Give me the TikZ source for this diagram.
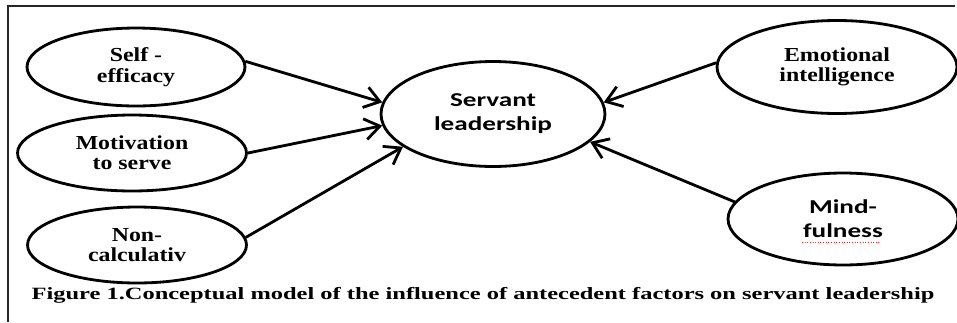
\documentclass[tikz,border=0pt]{standalone}
\usepackage{fontspec}
\setmainfont{Liberation Serif}
\newfontfamily\factorfont{Liberation Serif}[FakeStretch=1.2]
\newfontfamily\captionfont{Liberation Serif}[FakeStretch=1.42]
\newfontfamily\centerfont{Carlito}[FakeStretch=1.38]
\usetikzlibrary{positioning,arrows.meta,shapes.geometric}
\tikzset{
  factor/.style={ellipse, draw, line width=1.6pt, align=center, inner sep=0pt,
    font=\factorfont\bfseries\fontsize{11.3}{11.6}\selectfont},
  core/.style={factor, font=\centerfont\bfseries\fontsize{11.2}{13.7}\selectfont},
  influence/.style={-{Straight Barb[length=3mm,width=4.2mm,line width=1.6pt]}, line width=1.6pt},
  figcaption/.style={font=\captionfont\bfseries\fontsize{9.8}{11}\selectfont, anchor=base},
}

\begin{document}
\begin{tikzpicture}[x=0.02cm, y=-0.02cm]
  \useasboundingbox (0,0) rectangle (957,322);
  % open frame: top and left edges only
  \draw[line width=0.9pt, black!85] (8,322) -- (8,6) -- (955,6);

  \node[core, minimum width=4.48cm, minimum height=2.1cm] (servant) at (493,114) {Servant\\leadership};

  \node[factor, minimum width=4.36cm, minimum height=1.56cm] (selfeff) at (136,67) {Self -\\efficacy};
  \node[factor, minimum width=4.58cm, minimum height=1.52cm] (motiv) at (132,153) {Motivation\\to serve};
  \node[factor, minimum width=4.38cm, minimum height=1.52cm] (noncalc) at (137,245) {Non-\\calculativ};

  \node[factor, minimum width=4.8cm, minimum height=1.86cm] (emotion) at (837,67) {Emotional\\intelligence};
  \node[core, minimum width=4.6cm, minimum height=1.84cm] (mind) at (843,219) {Mind-\\fulness};
  % spell-check mark under the second line
  \draw[red!80, densely dotted, line width=0.5pt] (802,242) -- (880,242);

  \draw[influence] (selfeff.3) -- (servant.174);
  \draw[influence] (motiv.east) -- (servant.186);
  \draw[influence] (noncalc.4) -- (servant.200);
  \draw[influence] (emotion.178) -- (servant.6);
  \draw[influence] (mind.171) -- (servant.-16);

  \node[figcaption] (caption) at (483,299) {Figure 1.Conceptual model of the influence of antecedent factors on servant leadership};
\end{tikzpicture}
\end{document}
